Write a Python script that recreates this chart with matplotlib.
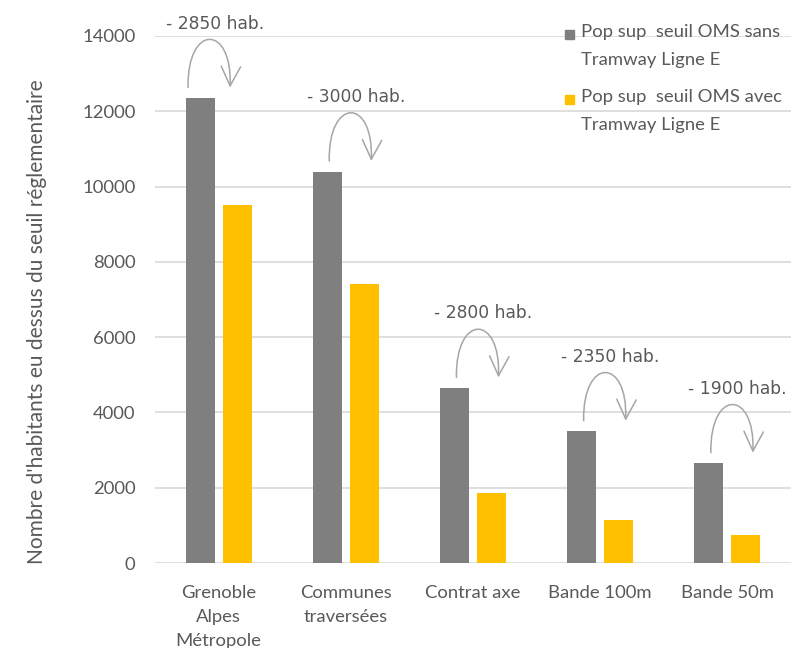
import matplotlib
matplotlib.use("Agg")
import matplotlib.pyplot as plt
from matplotlib.patches import FancyArrowPatch, Rectangle
from matplotlib.path import Path
import numpy as np

categories = ["Grenoble\nAlpes\nMétropole", "Communes\ntraversées", "Contrat axe",
              "Bande 100m", "Bande 50m"]
pop_sans_tram = [12350, 10400, 4650, 3500, 2650]
pop_avec_tram = [9500, 7400, 1850, 1150, 750]
gain_labels = ["- 2850 hab.", "- 3000 hab.", "- 2800 hab.", "- 2350 hab.", "- 1900 hab."]
series_labels = ["Pop sup  seuil OMS sans\nTramway Ligne E",
                 "Pop sup  seuil OMS avec\nTramway Ligne E"]
yticks = [0, 2000, 4000, 6000, 8000, 10000, 12000, 14000]

GREY = "#7f7f7f"
YELLOW = "#ffc000"
TXT = "#595959"
GRID = "#d9d9d9"
ARC = "#a6a6a6"
FS = 13.3

W, H = 792, 648
fig = plt.figure(figsize=(W / 100, H / 100), dpi=100)
ax = fig.add_axes([155 / W, (H - 563) / H, 636 / W, 527 / H])

x = np.arange(len(categories))
bw = 0.228
off = 0.145
ax.bar(x - off, pop_sans_tram, width=bw, color=GREY, zorder=3)
ax.bar(x + off, pop_avec_tram, width=bw, color=YELLOW, zorder=3)

ax.set_xlim(-0.5, 4.5)
ax.set_ylim(0, 14000)
ax.set_yticks(yticks)
ax.set_yticklabels([str(v) for v in yticks], fontsize=FS, color=TXT, family="Lato")
ax.set_xticks(x)
ax.set_xticklabels(categories, fontsize=FS, color=TXT, family="Lato", linespacing=1.6)
ax.tick_params(axis="both", length=0)
ax.tick_params(axis="y", pad=14)
ax.tick_params(axis="x", pad=16)
for s in ax.spines.values():
    s.set_visible(False)
ax.yaxis.grid(True, color=GRID, linewidth=1.2, zorder=0)
ax.set_axisbelow(True)

ax.set_ylabel("Nombre d'habitants eu dessus du seuil réglementaire", fontsize=15,
              color=TXT, family="Lato")
ax.yaxis.set_label_coords(-0.17, 0.457)

# curved arrows showing the reduction from one series to the other
shift = [-0.11, 0.0, 0.0, 0.0, 0.0]
for i, (g, lab) in enumerate(zip(pop_sans_tram, gain_labels)):
    cx = x[i] + shift[i]
    x0, x1 = cx - 0.13, cx + 0.20
    y0 = g + 280
    hc = 1700
    verts = [(x0, y0), (x0 - 0.01, y0 + hc), (x1 + 0.02, y0 + hc), (x1, y0)]
    codes = [Path.MOVETO, Path.CURVE4, Path.CURVE4, Path.CURVE4]
    arr = FancyArrowPatch(path=Path(verts, codes),
                          arrowstyle="->,head_length=0.7,head_width=0.35",
                          mutation_scale=20, color=ARC, lw=1.1, zorder=4,
                          shrinkA=0, shrinkB=0)
    ax.add_patch(arr)
    ax.text(cx + 0.08, g + 1980, lab, fontsize=12.3, color=TXT, ha="center", va="center",
            family="DejaVu Sans", clip_on=False)

# legend
for i, (lab, col) in enumerate(zip(series_labels, [GREY, YELLOW])):
    yc = 34 + i * 65
    fig.patches.append(Rectangle((565 / W, 1 - (yc + 4.5) / H), 9 / W, 9 / H,
                                 transform=fig.transFigure, color=col))
    fig.text(581 / W, 1 - (yc - 10) / H, lab, fontsize=FS, color=TXT, family="Lato",
             ha="left", va="top", linespacing=1.95)

fig.savefig("out.png", dpi=100)
